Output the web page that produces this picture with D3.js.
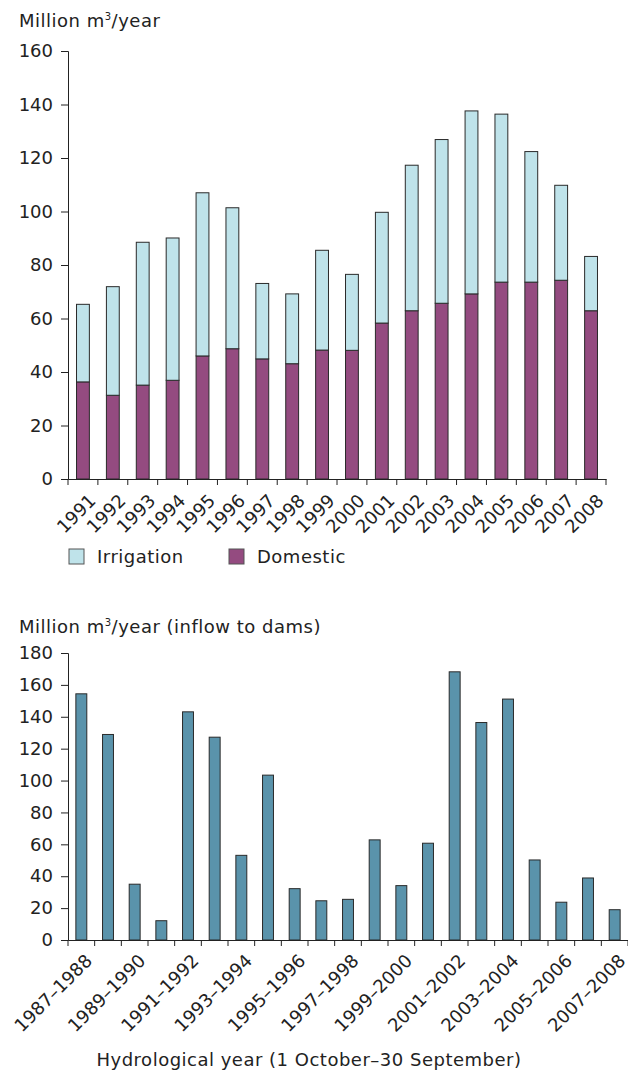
<!DOCTYPE html>
<html>
<head>
<meta charset="utf-8">
<script src="https://cdn.jsdelivr.net/npm/d3@7"></script>
<style>
  body { margin: 0; background: #fff; }
  svg text { font-family: "DejaVu Sans", Verdana, sans-serif; fill: #222; }
  .words { letter-spacing: 0.5px; }
</style>
</head>
<body>
<div id="chart"></div>
<script>
// top chart: water use by sector (million m3/year)
var years = ["1991","1992","1993","1994","1995","1996","1997","1998","1999",
             "2000","2001","2002","2003","2004","2005","2006","2007","2008"];
var domestic = [36.3, 31.3, 35.1, 36.9, 46.0, 48.7, 44.9, 43.1, 48.2,
                48.1, 58.3, 62.9, 65.7, 69.2, 73.6, 73.6, 74.3, 62.9];
var irrigation = [29.0, 40.6, 53.4, 53.2, 61.0, 52.7, 28.2, 26.1, 37.3,
                  28.4, 41.4, 54.4, 61.2, 68.4, 62.8, 48.8, 35.5, 20.3];
var topTicks = [0, 20, 40, 60, 80, 100, 120, 140, 160];

// bottom chart: inflow to dams by hydrological year
var hydroYears = ["1987–1988","1988–1989","1989–1990","1990–1991","1991–1992","1992–1993",
                  "1993–1994","1994–1995","1995–1996","1996–1997","1997–1998","1998–1999",
                  "1999–2000","2000–2001","2001–2002","2002–2003","2003–2004","2004–2005",
                  "2005–2006","2006–2007","2007–2008"];
var inflow = [154.4, 128.9, 35.0, 12.1, 143.1, 127.2, 53.1, 103.4, 32.2, 24.6, 25.5,
              62.8, 34.1, 60.7, 168.2, 136.4, 151.1, 50.2, 23.7, 38.9, 19.0];
var bottomTicks = [0, 20, 40, 60, 80, 100, 120, 140, 160, 180];

var colIrr = "#bfe3ea", colDom = "#944b80", colInflow = "#5a93ab";
var fs = "18px";

var svg = d3.select("#chart").append("svg")
    .attr("width", 628)
    .attr("height", 1072);

// ---------- top chart ----------
var x1 = d3.scaleBand().domain(years).range([68, 606]);
var y1 = d3.scaleLinear().domain([0, 160]).range([479, 51]);

var rows = years.map(function(y, i){ return {year: y, Domestic: domestic[i], Irrigation: irrigation[i]}; });
var stack = d3.stack().keys(["Domestic", "Irrigation"]);
var series = stack(rows);
var bw1 = x1.bandwidth() * 0.43;

svg.append("g").selectAll("g")
    .data(series)
    .enter().append("g")
    .attr("fill", function(d){ return d.key == "Domestic" ? colDom : colIrr; })
    .selectAll("rect")
    .data(function(d){ return d; })
    .enter().append("rect")
    .attr("x", function(d){ return x1(d.data.year) + (x1.bandwidth() - bw1) / 2; })
    .attr("width", bw1)
    .attr("y", function(d){ return y1(d[1]); })
    .attr("height", function(d){ return y1(d[0]) - y1(d[1]); })
    .attr("stroke", "#2a2a2a")
    .attr("stroke-width", 1);

svg.append("g")
    .attr("transform", "translate(68,0)")
    .call(d3.axisLeft(y1).tickValues(topTicks).tickSize(7).tickPadding(8));

var xAx1 = svg.append("g")
    .attr("transform", "translate(0,479)")
    .call(d3.axisBottom(x1).tickSize(0).tickFormat(""));
// ticks on band edges
xAx1.selectAll(".edge")
    .data(years.concat(["end"]))
    .enter().append("line")
    .attr("x1", function(d, i){ return 68 + i * x1.step(); })
    .attr("x2", function(d, i){ return 68 + i * x1.step(); })
    .attr("y1", 0).attr("y2", 6)
    .attr("stroke", "#222");

svg.append("g").selectAll("text")
    .data(years)
    .enter().append("text")
    .attr("transform", function(d){ return "translate(" + (x1(d) + x1.bandwidth() / 2 + 5) + ",493) rotate(-45)"; })
    .attr("text-anchor", "end")
    .attr("dy", "0.7em")
    .style("font-size", fs)
    .text(function(d){ return d; });

svg.append("text")
    .attr("class", "words")
    .attr("x", 19).attr("y", 27)
    .style("font-size", fs)
    .html("Million m<tspan dy='-7' style='font-size:10px'>3</tspan><tspan dy='7'>/year</tspan>");

// legend
var legend = [{name: "Irrigation", c: colIrr, x: 69}, {name: "Domestic", c: colDom, x: 229}];
var lg = svg.append("g").selectAll("g")
    .data(legend)
    .enter().append("g")
    .attr("transform", function(d){ return "translate(" + d.x + ",549)"; });
lg.append("rect")
    .attr("width", 15).attr("height", 15)
    .attr("fill", function(d){ return d.c; })
    .attr("stroke", "#555");
lg.append("text")
    .attr("class", "words")
    .attr("x", 28).attr("y", 14)
    .style("font-size", fs)
    .text(function(d){ return d.name; });

// ---------- bottom chart ----------
var x2 = d3.scaleBand().domain(hydroYears).range([68, 628]);
var y2 = d3.scaleLinear().domain([0, 180]).range([940, 653]);
var bw2 = x2.bandwidth() * 0.41;

svg.append("g").selectAll("rect")
    .data(inflow)
    .enter().append("rect")
    .attr("x", function(d, i){ return x2(hydroYears[i]) + (x2.bandwidth() - bw2) / 2; })
    .attr("width", bw2)
    .attr("y", function(d){ return y2(d); })
    .attr("height", function(d){ return y2(0) - y2(d); })
    .attr("fill", colInflow)
    .attr("stroke", "#2a2a2a");

svg.append("g")
    .attr("transform", "translate(68,0)")
    .call(d3.axisLeft(y2).tickValues(bottomTicks).tickSize(7).tickPadding(8));

var xAx2 = svg.append("g")
    .attr("transform", "translate(0,940)")
    .call(d3.axisBottom(x2).tickSize(0).tickFormat(""));
xAx2.selectAll(".edge")
    .data(hydroYears.concat(["end"]))
    .enter().append("line")
    .attr("x1", function(d, i){ return 68 + i * x2.step(); })
    .attr("x2", function(d, i){ return 68 + i * x2.step(); })
    .attr("y1", 0).attr("y2", 6)
    .attr("stroke", "#222");

svg.append("g").selectAll("text")
    .data(hydroYears.filter(function(d, i){ return i % 2 == 0; }))
    .enter().append("text")
    .attr("transform", function(d){ return "translate(" + (x2(d) + x2.bandwidth() / 2 + 3) + ",953) rotate(-45)"; })
    .attr("text-anchor", "end")
    .attr("dy", "0.7em")
    .style("font-size", fs)
    .text(function(d){ return d; });

svg.append("text")
    .attr("class", "words")
    .attr("x", 19).attr("y", 633)
    .style("font-size", fs)
    .html("Million m<tspan dy='-7' style='font-size:10px'>3</tspan><tspan dy='7'>/year (inflow to dams)</tspan>");

svg.append("text")
    .attr("class", "words")
    .attr("x", 309).attr("y", 1066)
    .attr("text-anchor", "middle")
    .style("font-size", fs)
    .text("Hydrological year (1 October–30 September)");

svg.selectAll(".tick text").style("font-size", fs).style("fill", "#222");
svg.selectAll(".domain, .tick line").attr("stroke", "#222");
</script>
</body>
</html>
